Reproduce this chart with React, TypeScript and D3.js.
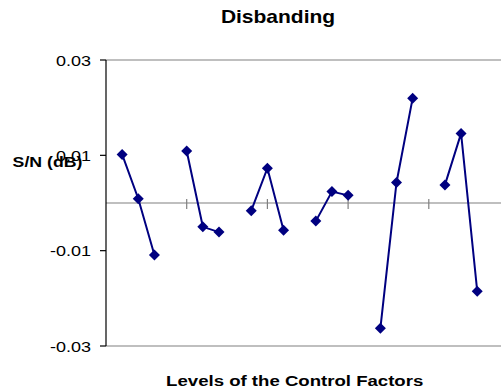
import React from "react";
import * as d3 from "d3";

const chartTitle = "Disbanding";
const xAxisTitle = "Levels of the Control Factors";
const yAxisTitle = "S/N (dB)";
// category slots (blank slots separate the control factors)
const categories: string[] = Array.from({ length: 26 }, () => "");
const snValues: (number | null)[] = [
  null, 0.0102, 0.0009, -0.0109,
  null, 0.0109, -0.005, -0.0061,
  null, -0.0016, 0.0073, -0.0057,
  null, -0.0038, 0.0024, 0.0016,
  null, -0.0263, 0.0043, 0.022,
  null, 0.0038, 0.0146, -0.0185,
  null, null,
];
const yTicks = [0.03, 0.01, -0.01, -0.03];
const xTickEvery = 5;

const W = 501;
const H = 391;
const left = 106;
const top = 60;
const bottom = 346;
const right = 509.5;
const SX = 1.2;

export default function App() {
  const x = d3.scaleLinear().domain([0, categories.length - 1]).range([left, right]);
  const y = d3.scaleLinear().domain([-0.03, 0.03]).range([bottom, top]);
  const pts = snValues.map((v, i) => ({ i, v }));
  const line = d3
    .line<{ i: number; v: number | null }>()
    .defined((d) => d.v !== null)
    .x((d) => x(d.i))
    .y((d) => y(d.v as number));
  const y0 = y(0);
  const xTicks = categories.map((_, i) => i).filter((i) => i % xTickEvery === 0 && i > 0);
  const r = 5.5;
  const font = "Liberation Sans, Arial, sans-serif";
  return (
    <svg
      width={W}
      height={H}
      style={{ position: "absolute", left: 0, top: 0, background: "#fff" }}
      fontFamily={font}
    >
      <rect x={0} y={0} width={W} height={H} fill="#fff" />
      <text
        transform={`translate(278,22.5) scale(${SX},1)`}
        textAnchor="middle"
        fontWeight="bold"
        fontSize={17.5}
      >
        {chartTitle}
      </text>
      {/* plot border top/bottom */}
      <line x1={left} x2={right} y1={top} y2={top} stroke="#808080" strokeWidth={1.2} />
      <line x1={left} x2={right} y1={bottom} y2={bottom} stroke="#808080" strokeWidth={1.2} />
      {/* zero category axis */}
      <line x1={left} x2={right} y1={y0} y2={y0} stroke="#808080" strokeWidth={1.2} />
      {xTicks.map((i) => (
        <line key={i} x1={x(i)} x2={x(i)} y1={y0 - 4} y2={y0 + 6} stroke="#808080" strokeWidth={1.2} />
      ))}
      {/* value axis */}
      <line x1={left} x2={left} y1={top} y2={bottom} stroke="#000" strokeWidth={1.2} />
      {yTicks.map((t) => (
        <g key={t}>
          <line x1={left - 6} x2={left} y1={y(t)} y2={y(t)} stroke="#000" strokeWidth={1.2} />
          <text
            transform={`translate(91,${y(t) + 5.5}) scale(${SX},1)`}
            textAnchor="end"
            fontSize={15}
          >
            {t.toFixed(2)}
          </text>
        </g>
      ))}
      <path d={line(pts) || ""} fill="none" stroke="#000080" strokeWidth={2} />
      {pts
        .filter((d) => d.v !== null)
        .map((d) => {
          const cx = x(d.i);
          const cy = y(d.v as number);
          return (
            <path
              key={d.i}
              d={`M${cx},${cy - r}L${cx + r},${cy}L${cx},${cy + r}L${cx - r},${cy}Z`}
              fill="#000080"
            />
          );
        })}
      <text
        transform={`translate(47.5,166.5) scale(1.18,1)`}
        textAnchor="middle"
        fontWeight="bold"
        fontSize={15}
      >
        {yAxisTitle}
      </text>
      <text
        transform={`translate(294.7,386) scale(${SX},1)`}
        textAnchor="middle"
        fontWeight="bold"
        fontSize={15.5}
      >
        {xAxisTitle}
      </text>
    </svg>
  );
}
